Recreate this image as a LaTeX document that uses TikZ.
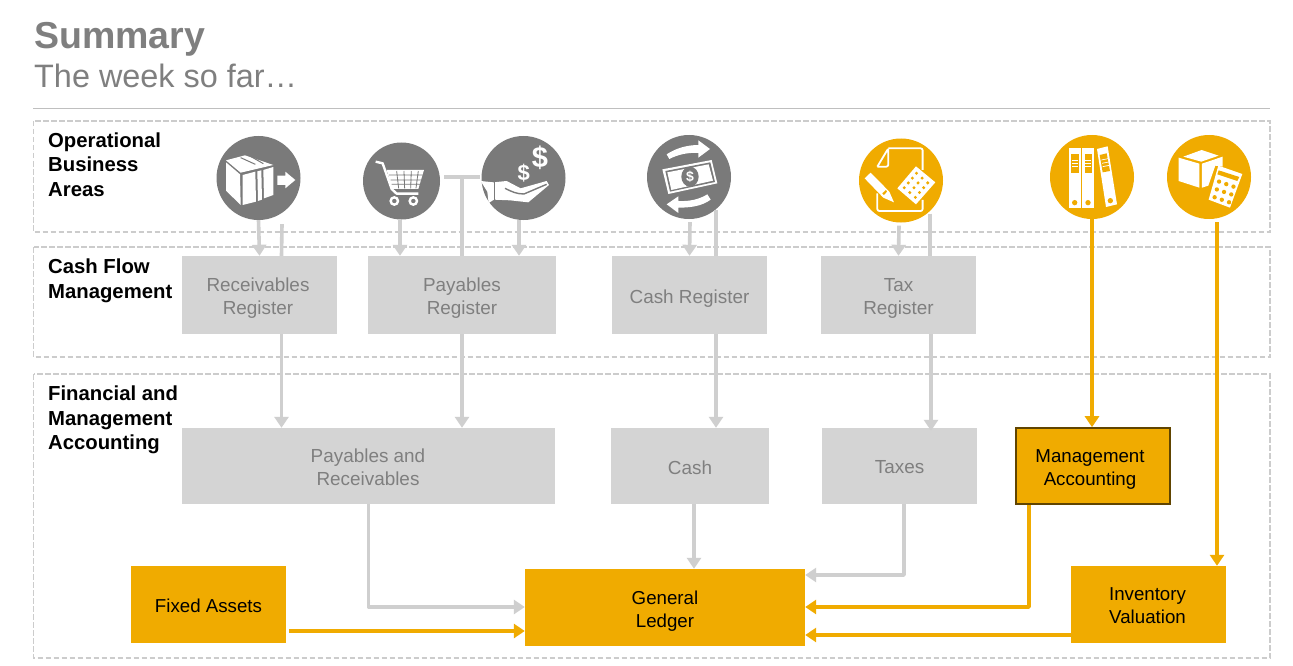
\documentclass[tikz,border=0pt]{standalone}
\usepackage{fontspec}
\setmainfont{Liberation Sans}
\usetikzlibrary{arrows.meta,calc}
\definecolor{sapor}{HTML}{F0AB00}
\definecolor{gline}{HTML}{CFCFCF}
\definecolor{gbox}{HTML}{D4D4D4}
\definecolor{gtext}{HTML}{7F7F7F}
\definecolor{gicon}{HTML}{7A7A7A}
\definecolor{gdash}{HTML}{CCCCCC}
\tikzset{
  grayarrow/.style={draw=gline,line width=3.6pt,-{Triangle[width=14pt,length=11pt]},line join=round},
  grayline/.style={draw=gline,line width=3.6pt},
  orarrow/.style={draw=sapor,line width=3.6pt,-{Triangle[width=14pt,length=11pt]},line join=round},
  band/.style={draw=gdash,line width=1.4pt,dash pattern=on 5.5pt off 2.5pt,inner sep=0pt,fill=none},
  graybox/.style={fill=gbox,inner sep=0pt},
  orbox/.style={fill=sapor,inner sep=0pt},
  gl/.style={text=gtext,inner sep=0pt,align=center,font=\fontsize{18.9}{23}\selectfont},
  ol/.style={text=black,inner sep=0pt,align=center,font=\fontsize{18.7}{23}\selectfont},
  head/.style={anchor=north west,inner sep=0pt,align=left,font=\fontsize{20.3}{24.5}\selectfont\bfseries},
  icongray/.style={circle,fill=gicon,inner sep=0pt,minimum size=84pt},
  iconor/.style={circle,fill=sapor,inner sep=0pt,minimum size=84pt},
  zoomA/.style={shift={(200,125)},x=0.3333pt,y=-0.3333pt},
  zoomB/.style={shift={(630,125)},x=0.3333pt,y=-0.3333pt},
  zoomC/.style={shift={(1030,125)},x=0.3333pt,y=-0.3333pt},
}
\begin{document}
\begin{tikzpicture}[x=1pt,y=-1pt]
\useasboundingbox[fill=white] (0,0) rectangle (1293,666);
% title
\node[anchor=base west,inner sep=0pt,text=gtext,font=\fontsize{37.5}{40}\selectfont\bfseries] (title) at (34,49) {Summary};
\node[anchor=base west,inner sep=0pt,text=gtext,font=\fontsize{32.4}{36}\selectfont] (subtitle) at (34,88) {The week so far…};
\coordinate (ruleL) at (33,108.5);
\coordinate (ruleR) at (1270,108.5);
\draw[draw=black!25,line width=1.5pt] (ruleL) -- (ruleR);
% bands
\draw[band] (33.5,121) rectangle (1270,232);
\draw[band] (33.5,247) rectangle (1270,357);
\draw[band] (33.5,374) rectangle (1270,658);
\node[head] (h1) at (48,132.5) {Operational\\Business\\Areas};
\node[head] (h2) at (48,259) {Cash Flow\\Management};
\node[head] (h3) at (48,386) {Financial and\\Management\\Accounting};
% boxes
\node[graybox,minimum width=155pt,minimum height=78pt,label={[gl,xshift=-1.5pt,yshift=-3pt]center:{Receivables\\Register}}] (rr) at (259.5,295) {};
\node[graybox,minimum width=188pt,minimum height=78pt,label={[gl,yshift=-3pt]center:{Payables\\Register}}] (pr) at (462,295) {};
\node[graybox,minimum width=155pt,minimum height=78pt,label={[gl,yshift=-4pt]center:{Cash Register}}] (cr) at (689.5,295) {};
\node[graybox,minimum width=155pt,minimum height=78pt,label={[gl,yshift=-3.5pt]center:{Tax\\Register}}] (tr) at (898.5,295) {};
\node[graybox,minimum width=373pt,minimum height=76pt,label={[gl,xshift=-0.5pt,yshift=-1pt]center:{Payables and\\Receivables}}] (par) at (368.5,466) {};
\node[graybox,minimum width=158pt,minimum height=76pt,label={[gl,yshift=-2pt]center:{Cash}}] (cash) at (690,466) {};
\node[graybox,minimum width=155pt,minimum height=76pt,label={[gl,yshift=-1pt]center:{Taxes}}] (tax) at (899.5,466) {};
\node[orbox,draw=black!60!sapor,line width=1.6pt,minimum width=154pt,minimum height=76pt,label={[ol,xshift=-3pt,yshift=-3.5pt]center:{Management\\Accounting}}] (ma) at (1093,466) {};
\node[orbox,minimum width=155pt,minimum height=77pt,label={[ol,yshift=-1pt]center:{Fixed Assets}}] (fa) at (208.5,604.5) {};
\node[orbox,minimum width=280pt,minimum height=77pt,label={[ol,yshift=-4pt]center:{General\\Ledger}}] (gen) at (665,607.5) {};
\node[orbox,minimum width=155pt,minimum height=77pt,label={[ol,xshift=-1pt,yshift=-1.5pt]center:{Inventory\\Valuation}}] (iv) at (1148.5,604.5) {};
% icon discs
\node[icongray,minimum size=84pt] (i1) at (258.5,178) {};
\node[icongray,minimum size=77pt] (i2) at (401.5,181) {};
\node[icongray] (i3) at (523.5,178) {};
\node[icongray] (i4) at (689,177) {};
\node[iconor] (i5) at (901,180.5) {};
\node[iconor] (i6) at (1092,177) {};
\node[iconor] (i7) at (1209,177) {};
% connectors
\draw[grayarrow] (i1.south) -- (rr.north);
\draw[grayline] ([xshift=23.5pt,yshift=-4pt]i1.south) -- ([xshift=22pt]rr.north);
\draw[grayarrow] ([xshift=-1.5pt]i2.south) -- ([xshift=-62pt]pr.north);
\draw[grayarrow] ([xshift=-4.5pt]i3.south) -- ([xshift=57pt]pr.north);
\draw[grayline] ([xshift=4pt,yshift=4pt]i2.east) -- ([xshift=-1.5pt,yshift=1pt]i3.west);
\draw[grayline] ([yshift=81pt]pr.north) -- (pr.north);
\draw[grayarrow] ([xshift=1pt,yshift=-3pt]i4.south) -- (cr.north);
\draw[grayline] ([xshift=27pt,yshift=9pt]i4.south) -- ([xshift=26.5pt]cr.north);
\draw[grayarrow] ([xshift=-2pt,yshift=-3pt]i5.south) -- (tr.north);
\draw[grayline] ([xshift=29pt,yshift=9pt]i5.south) -- ([xshift=31.5pt]tr.north);
\draw[orarrow] (i6.south) -- ([xshift=-1pt]ma.north);
\draw[orarrow] ([xshift=8pt,yshift=-3pt]i7.south) -- ([xshift=68.5pt]iv.north);
\draw[grayarrow] ([xshift=22pt]rr.south) -- ([xshift=-87pt]par.north);
\draw[grayarrow] (pr.south) -- ([xshift=93.5pt]par.north);
\draw[grayarrow] ([xshift=26.5pt]cr.south) -- ([xshift=26pt]cash.north);
\draw[grayarrow] ([xshift=32.5pt]tr.south) -- ([xshift=31.5pt,yshift=-3pt]tax.north);
\draw[grayarrow] (par.south) |- ([yshift=0.5pt]gen.west);
\draw[grayarrow] ([xshift=4pt]cash.south) -- ([xshift=29pt]gen.north);
\draw[grayarrow] ([xshift=4.5pt]tax.south) |- ([yshift=32.5pt]gen.east);
\draw[orarrow] ([xshift=-64pt]ma.south) |- ([yshift=0.5pt]gen.east);
\draw[orarrow] ([yshift=-30.5pt]iv.west) -- ([yshift=-27.5pt]gen.east);
\draw[orarrow] ([xshift=3pt,yshift=-26.5pt]fa.east) -- ([yshift=-23.5pt]gen.west);
% icon 1: parcel
\begin{scope}[zoomA]
\fill[white] (78,112) -- (120,148) -- (122,240) -- (78,197) -- cycle;
\fill[white] (78,106) -- (135,91) -- (220,120) -- (122,143) -- cycle;
\fill[white] (128,150) -- (166,140) -- (168,230) -- (128,240) -- cycle;
\fill[white] (172,139) -- (184,136) -- (186,224) -- (174,228) -- cycle;
\fill[white] (190,135) -- (220,126) -- (220,210) -- (192,220) -- cycle;
\draw[gicon,line width=1.0pt] (122,98) -- (166,118) (148,92) -- (190,116);
\fill[white] (232,152) -- (256,152) -- (256,140) -- (286,165) -- (256,190) -- (256,180) -- (232,180) -- cycle;
% icon 2: cart
\draw[white,line width=2.4pt,line join=round] (527,110) -- (548,115) -- (575,192) -- (590,206) -- (655,206);
\fill[white] (560,135) -- (672,135) -- (655,192) -- (576,192) -- cycle;
\draw[gicon,line width=0.8pt] (567,150) -- (668,150) (572,165) -- (664,165) (575,178) -- (660,178)
  (590,138) -- (596,190) (612,138) -- (614,190) (634,138) -- (632,190) (655,138) -- (648,190);
\draw[white,line width=2.4pt] (583,228) circle[radius=11] (640,228) circle[radius=11];
% icon 3: hand with dollars
\fill[white] (842,168) -- (880,172) -- (920,168) -- (962,190) -- (1040,168) -- (1047,180) -- (985,232) -- (930,226) -- (882,224) -- (866,234) -- (862,200) -- cycle;
\draw[gicon,line width=1.4pt] (884,172) -- (884,224);
\draw[gicon,line width=1.4pt] (915,190) .. controls (935,200) and (950,207) .. (972,207) -- (1040,178);
\node[text=white,inner sep=0pt,font=\fontsize{29}{29}\selectfont\bfseries] (d1) at (1020,99) {\$};
\node[text=white,inner sep=0pt,font=\fontsize{22}{22}\selectfont\bfseries] (d2) at (971,145) {\$};
\end{scope}
% icon 4: cash cycle
\begin{scope}[zoomB]
\fill[white] (110,88) .. controls (140,68) and (175,60) .. (205,60) -- (205,46) -- (240,72) -- (205,98) -- (205,84) .. controls (175,82) and (145,88) .. (118,102) -- cycle;
\fill[white] (242,224) .. controls (215,244) and (180,248) .. (145,248) -- (145,264) -- (110,238) -- (145,214) -- (145,228) .. controls (180,230) and (210,222) .. (232,208) -- cycle;
\fill[white] (97,133) -- (245,105) -- (262,175) -- (115,207) -- cycle;
\fill[gicon] (106,138) -- (241,112) -- (255,171) -- (120,200) -- cycle;
\fill[white] (112,142) -- (236,118) -- (249,167) -- (124,195) -- cycle;
\fill[gicon] (180,155) ellipse[x radius=26,y radius=30];
\node[text=white,inner sep=0pt,font=\fontsize{14}{14}\selectfont\bfseries] (d3) at (180,155) {\$};
% icon 5: tax document
\draw[white,line width=1.8pt,line join=round,rounded corners=2pt] (775,70) -- (878,70) -- (878,135) (878,225) -- (878,258) -- (742,258) -- (742,205) (742,125) -- (775,70) -- (775,125) -- (742,125);
\fill[white] (704,160) -- (722,143) -- (778,200) -- (792,232) -- (760,218) -- cycle;
\fill[sapor] (757,205) -- (768,195) -- (771,200) -- (762,210) -- cycle;
\fill[white] (802,190) -- (858,124) -- (916,172) -- (858,238) -- cycle;
\foreach \i in {0.2,0.5,0.8} \foreach \j in {0.17,0.39,0.61,0.83}
  \fill[sapor] ({802+56*\i+56*\j},{190-66*\j+48*\i}) circle[radius=5];
\end{scope}
% icons 6, 7
\begin{scope}[zoomC]
\fill[white] (117,70) rectangle (152,248);
\fill[white] (157,70) rectangle (191,248);
\fill[white] (201,72) -- (233,64) -- (261,238) -- (228,246) -- cycle;
\fill[sapor] (124,88) rectangle (146,145);
\fill[sapor] (164,88) rectangle (186,145);
\fill[sapor] (209,90) -- (230,85) -- (240,138) -- (218,142) -- cycle;
\foreach \v in {105,115,125} {\draw[white,line width=0.7pt] (126,\v) -- (144,\v); \draw[white,line width=0.7pt] (166,\v) -- (184,\v);}
\draw[white,line width=0.7pt] (214,105) -- (234,101) (216,115) -- (236,111) (218,125) -- (238,121);
\fill[sapor] (134,233) circle[radius=8] (174,233) circle[radius=8] (241,227) circle[radius=8];
% box + calculator
\fill[white] (460,95) -- (515,75) -- (566,92) -- (514,110) -- cycle;
\fill[white] (446,98) -- (508,116) -- (508,188) -- (446,168) -- cycle;
\fill[white] (516,116) -- (578,95) -- (578,125) -- (556,122) -- (535,182) -- (516,188) -- cycle;
\fill[white] (565,122) -- (637,147) -- (600,248) -- (536,224) -- cycle;
\fill[sapor] (566,136) -- (628,156) -- (622,168) -- (562,148) -- cycle;
\foreach \s in {0.2,0.5,0.8} \foreach \t in {0.42,0.65,0.88}
  \fill[sapor] ({565+72*\s-29*\t},{122+25*\s+102*\t}) circle[radius=6.5];
\end{scope}
\end{tikzpicture}
\end{document}
